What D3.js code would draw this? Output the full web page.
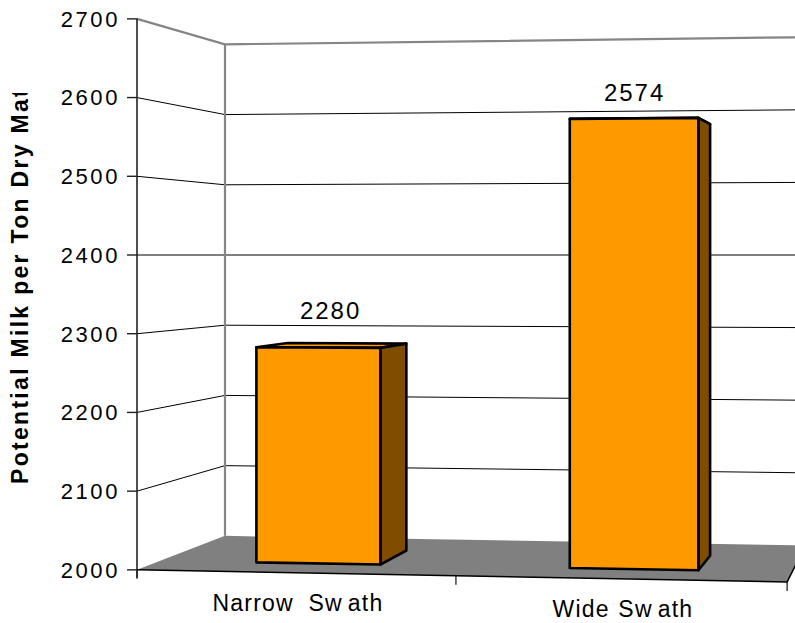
<!DOCTYPE html>
<html>
<head>
<meta charset="utf-8">
<script src="https://cdn.jsdelivr.net/npm/d3@7"></script>
<style>
  html, body { margin: 0; padding: 0; background: #fff; }
  svg { display: block; }
  text { font-family: "Liberation Sans", Arial, sans-serif; fill: #000; }
</style>
</head>
<body>
<svg id="chart" width="795" height="623"></svg>
<script>
// ---- data ----
const categories = ["Narrow Swath", "Wide Swath"];
const values = [2280, 2574];
const yTicks = [2000, 2100, 2200, 2300, 2400, 2500, 2600, 2700];
const yTitle = "Potential Milk per Ton Dry Matter";

const svg = d3.select("#chart");

// value -> height inside the walls (0 = floor, 1 = top of walls)
const y = d3.scaleLinear().domain([2000, 2700]).range([0, 1]);
// category position along the front edge (0 = left, 1 = right)
const x = d3.scaleBand().domain(categories).range([0.006, 1.006])
  .paddingInner(0.6).paddingOuter(0.3);

// two-point perspective: X along categories, Z into depth, h height
const cam = { x0: 137, u: 621, v: 115.2, p: -0.037, q: 0.121,
              horizon: 255, span: 551, eye: y(2400) };
function project(X, Z, h) {
  const w = 1 + cam.p * X + cam.q * Z;
  return [(cam.x0 + cam.u * X + cam.v * Z) / w,
          cam.horizon - cam.span * (h - cam.eye) / w];
}
const line = pts => "M" + pts.map(p => project(...p).join(",")).join("L");
const poly = pts => line(pts) + "Z";

const zFront = 0.25, zBack = 0.65;

// ---- floor ----
svg.append("path")
  .attr("d", poly([[0, 0, 0], [0, 1, 0], [1, 1, 0], [1, 0, 0]]))
  .attr("fill", "#808080");
svg.append("path")
  .attr("d", line([[0, 0, 0], [1, 0, 0], [1, 1, 0]]))
  .attr("fill", "none").attr("stroke", "#000").attr("stroke-width", 1.5);

// ---- walls and gridlines ----
const grid = svg.append("g").attr("fill", "none");
yTicks.filter(t => t > 2000 && t < 2700).forEach(t => {
  grid.append("path").attr("d", line([[0, 0, y(t)], [0, 1, y(t)], [1, 1, y(t)]]))
    .attr("stroke", "#000").attr("stroke-width", 1);
});
grid.append("path")
  .attr("d", line([[0, 0, 1], [0, 1, 1], [1, 1, 1]]))
  .attr("stroke", "#858585").attr("stroke-width", 2.2);
grid.append("path")
  .attr("d", line([[0, 1, 0], [0, 1, 1]]))
  .attr("stroke", "#858585").attr("stroke-width", 2.2);

// ---- value axis ----
const axisG = svg.append("g");
const [ax, ayTop] = project(0, 0, 1);
const ayBot = project(0, 0, 0)[1];
axisG.append("line").attr("x1", ax).attr("x2", ax)
  .attr("y1", ayTop).attr("y2", ayBot + 8)
  .attr("stroke", "#222").attr("stroke-width", 1.6);
yTicks.forEach(t => {
  const [px, py] = project(0, 0, y(t));
  axisG.append("line").attr("x1", px - 10).attr("x2", px)
    .attr("y1", py).attr("y2", py)
    .attr("stroke", "#222").attr("stroke-width", 1.4);
  axisG.append("text")
    .attr("x", px - 17).attr("y", py)
    .attr("dy", "0.36em")
    .attr("text-anchor", "end")
    .attr("font-size", 22)
    .attr("letter-spacing", 2.6)
    .text(t);
});

// ---- category ticks ----
[0, 0.5, 1].forEach(X => {
  const [px, py] = project(X, 0, 0);
  svg.append("line").attr("x1", px).attr("x2", px)
    .attr("y1", py).attr("y2", py + 9)
    .attr("stroke", "#222").attr("stroke-width", 1.3);
});

// ---- bars ----
const barG = svg.append("g")
  .attr("stroke", "#000").attr("stroke-width", 2.6)
  .attr("stroke-linejoin", "round");
categories.forEach((c, i) => {
  const xl = x(c), xr = xl + x.bandwidth(), h = y(values[i]);
  barG.append("path").attr("fill", "#FF9900")
    .attr("d", poly([[xl, zFront, h], [xr, zFront, h], [xr, zBack, h], [xl, zBack, h]]));
  barG.append("path").attr("fill", "#7F4C00")
    .attr("d", poly([[xr, zFront, 0], [xr, zBack, 0], [xr, zBack, h], [xr, zFront, h]]));
  barG.append("path").attr("fill", "#FF9900")
    .attr("d", poly([[xl, zFront, 0], [xr, zFront, 0], [xr, zFront, h], [xl, zFront, h]]));

  const xc = xl + x.bandwidth() / 2;
  const lx = project(xc, 0.35, h)[0];
  const ly = project(xc, zBack, h)[1] - 24;
  svg.append("text")
    .attr("x", lx + (i === 0 ? 5 : -3)).attr("y", ly)
    .attr("text-anchor", "middle")
    .attr("font-size", 24)
    .attr("letter-spacing", 2)
    .text(values[i]);
});

// ---- category labels ----
categories.forEach((c, i) => {
  const xc = 0.25 + 0.5 * i;
  const [px, py] = project(xc, 0, 0);
  const t = svg.append("text")
    .attr("x", px + 3).attr("y", py + 38)
    .attr("text-anchor", "middle")
    .attr("font-size", 23)
    .attr("letter-spacing", 1.2);
  const words = c.split(" ");
  words.forEach((wd, k) => {
    const prefix = k > 0 ? " " : "";
    if (wd.startsWith("Sw")) {
      t.append("tspan").attr("dx", i === 0 ? 7 : 1).text(prefix + "Sw");
      t.append("tspan").attr("dx", 5).text(wd.slice(2));
    } else {
      t.append("tspan").text(prefix + wd);
    }
  });
});

// ---- value axis title (clipped at the top) ----
svg.append("clipPath").attr("id", "titleClip")
  .append("rect").attr("x", 0).attr("y", 93).attr("width", 60).attr("height", 530);
svg.append("g")
  .attr("clip-path", "url(#titleClip)")
  .append("text")
  .attr("transform", "translate(28,484) rotate(-90)")
  .attr("font-size", 23)
  .attr("font-weight", "bold")
  .attr("letter-spacing", 2.3)
  .text(yTitle);
</script>
</body>
</html>
